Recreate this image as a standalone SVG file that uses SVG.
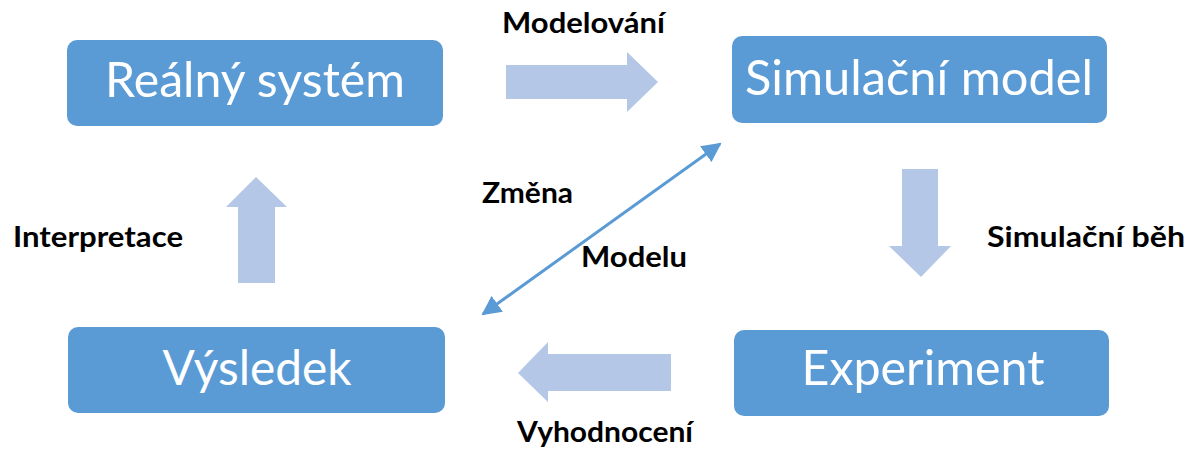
<svg xmlns="http://www.w3.org/2000/svg" width="1198" height="449" viewBox="0 0 1198 449">
<defs>
<style>
.box{fill:#5B9BD5;}
.bt{font-family:Lato,"Liberation Sans",sans-serif;font-size:48px;fill:#ffffff;text-anchor:middle;}
.lb{font-family:Lato,"Liberation Sans",sans-serif;font-weight:bold;font-size:28px;fill:#000000;}
.blk{fill:#B4C7E7;}
.dbl{stroke:#5B9BD5;stroke-width:3;fill:none;}
</style>
<marker id="ah" viewBox="0 0 10 10" refX="9" refY="5" markerWidth="6.5" markerHeight="6.5" orient="auto-start-reverse" markerUnits="strokeWidth">
<path d="M0,0 L10,5 L0,10 Z" fill="#5B9BD5"/>
</marker>
</defs>
<rect width="1198" height="449" fill="#ffffff"/>
<g id="node-realny">
<rect class="box" x="67" y="40" width="376" height="86" rx="10"/>
<text class="bt" x="255" y="97" textLength="300" lengthAdjust="spacingAndGlyphs">Reálný systém</text>
</g>
<g id="node-simulacni">
<rect class="box" x="732" y="36" width="375" height="87" rx="10"/>
<text class="bt" x="919" y="95" textLength="348" lengthAdjust="spacingAndGlyphs">Simulační model</text>
</g>
<g id="node-vysledek">
<rect class="box" x="68" y="327" width="377" height="86" rx="10"/>
<text class="bt" x="257" y="385" textLength="189" lengthAdjust="spacingAndGlyphs">Výsledek</text>
</g>
<g id="node-experiment">
<rect class="box" x="734" y="330" width="375" height="86" rx="10"/>
<text class="bt" x="923" y="385" textLength="243" lengthAdjust="spacingAndGlyphs">Experiment</text>
</g>
<g id="connectors">
<polygon class="blk" points="506,65 627,65 627,52 658,82 627,112 627,99 506,99"/>
<polygon class="blk" points="902,169 938,169 938,246 951,246 921,277 889,246 902,246"/>
<polygon class="blk" points="671,354 671,391 548,391 548,402 518,373 548,342 548,354"/>
<polygon class="blk" points="238,283 275,283 275,207 287,207 256,177 226,207 238,207"/>
<line class="dbl" x1="483" y1="314" x2="720" y2="144" marker-start="url(#ah)" marker-end="url(#ah)"/>
<text class="lb" x="502" y="33" textLength="163" lengthAdjust="spacingAndGlyphs">Modelování</text>
<text class="lb" x="987" y="247" textLength="198" lengthAdjust="spacingAndGlyphs">Simulační běh</text>
<text class="lb" x="517" y="442" textLength="176" lengthAdjust="spacingAndGlyphs">Vyhodnocení</text>
<text class="lb" x="13" y="247" textLength="170" lengthAdjust="spacingAndGlyphs">Interpretace</text>
<text class="lb" x="482" y="203" textLength="91" lengthAdjust="spacingAndGlyphs">Změna</text>
<text class="lb" x="581" y="267" textLength="106" lengthAdjust="spacingAndGlyphs">Modelu</text>
</g>
</svg>
